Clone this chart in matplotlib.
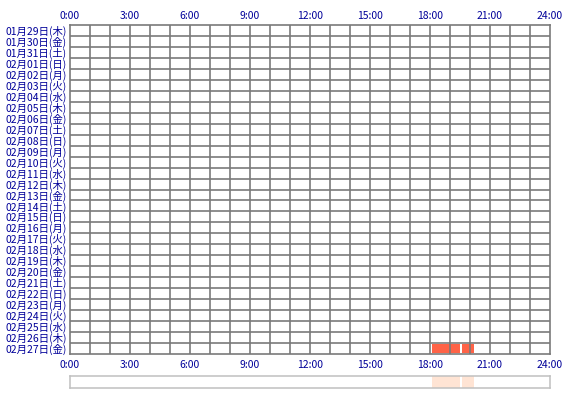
import matplotlib
matplotlib.use("Agg")
import matplotlib.pyplot as plt

plt.rcParams['font.family'] = ['Noto Sans CJK JP', 'DejaVu Sans']

days = ['01月29日(木)', '01月30日(金)', '01月31日(土)', '02月01日(日)', '02月02日(月)',
        '02月03日(火)', '02月04日(水)', '02月05日(木)', '02月06日(金)', '02月07日(土)',
        '02月08日(日)', '02月09日(月)', '02月10日(火)', '02月11日(水)', '02月12日(木)',
        '02月13日(金)', '02月14日(土)', '02月15日(日)', '02月16日(月)', '02月17日(火)',
        '02月18日(水)', '02月19日(木)', '02月20日(金)', '02月21日(土)', '02月22日(日)',
        '02月23日(月)', '02月24日(火)', '02月25日(水)', '02月26日(木)', '02月27日(金)']
hour_ticks = [0, 3, 6, 9, 12, 15, 18, 21, 24]
hour_labels = ['0:00', '3:00', '6:00', '9:00', '12:00', '15:00', '18:00', '21:00', '24:00']
session_day = ['02月27日(金)', '02月27日(金)']
session_start = [18.1, 19.6]
session_end = [19.5, 20.2]

W, H = 570, 400
fig = plt.figure(figsize=(W / 100, H / 100), dpi=100)
fig.patch.set_facecolor('white')

text_color = '#000099'
grid_color = '#7a7a7a'
fs = 7.5

ax = fig.add_axes([70 / W, (H - 354) / H, 480 / W, 329 / H])
n = len(days)
ax.set_xlim(0, 24)
ax.set_ylim(n - 0.5, -0.5)

ys = [days.index(d) for d in session_day]
ax.barh(ys, [e - s for s, e in zip(session_start, session_end)], left=session_start,
        height=0.88, color='#FF6347', zorder=1)

ax.vlines(range(1, 24), -0.5, n - 0.5, color=grid_color, lw=1.2, zorder=2)
ax.hlines([i + 0.5 for i in range(n - 1)], 0, 24, color=grid_color, lw=1.2, zorder=2)
for sp in ax.spines.values():
    sp.set_color(grid_color)
    sp.set_linewidth(1.2)
    sp.set_zorder(3)

ax.set_xticks(hour_ticks)
ax.set_xticklabels(hour_labels)
ax.set_yticks(range(n))
ax.set_yticklabels(days)
ax.tick_params(axis='x', length=0, pad=4, labelsize=fs, labelcolor=text_color)
ax.tick_params(axis='y', length=0, pad=2.5, labelsize=fs, labelcolor=text_color)

top = ax.secondary_xaxis('top')
top.set_xticks(hour_ticks)
top.set_xticklabels(hour_labels)
top.tick_params(length=0, pad=3, labelsize=fs, labelcolor=text_color)
top.spines['top'].set_visible(False)

ax2 = fig.add_axes([70 / W, (H - 388) / H, 480 / W, 12 / H])
ax2.set_xlim(0, 24)
ax2.set_ylim(0, 1)
ax2.barh([0.5] * len(session_start), [e - s for s, e in zip(session_start, session_end)],
         left=session_start, height=1.0, color='#FFE4D4')
for sp in ax2.spines.values():
    sp.set_color('#C0C0C0')
    sp.set_linewidth(1.1)
ax2.set_xticks([])
ax2.set_yticks([])

fig.savefig('out.png', dpi=100)
